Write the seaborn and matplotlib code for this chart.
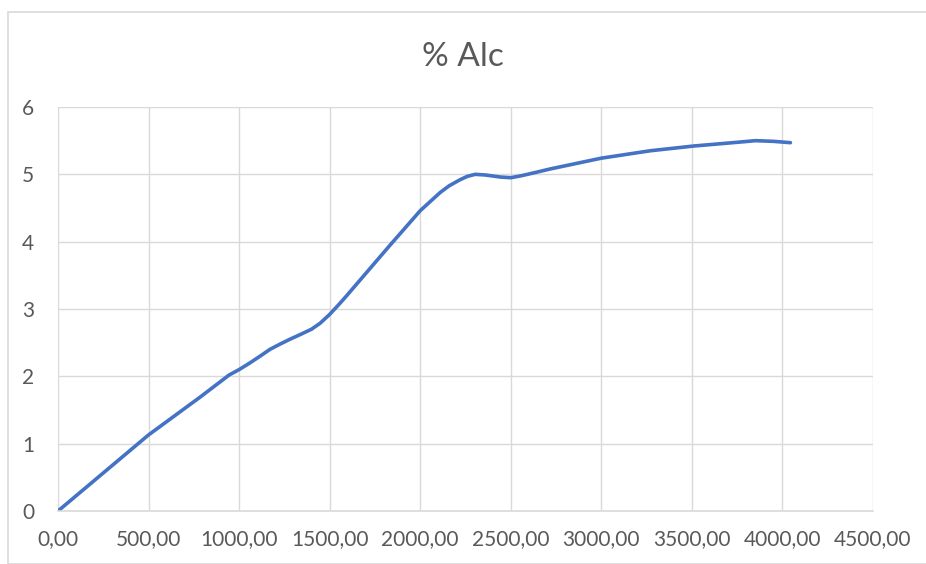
import matplotlib
matplotlib.use("Agg")
import matplotlib.pyplot as plt
from matplotlib.patches import Rectangle
from matplotlib.ticker import FuncFormatter, MultipleLocator
import pandas as pd
import seaborn as sns

# Alcohol content (%) measured along the x quantity
x_vals = [0, 500, 784, 945, 1000, 1060, 1116, 1170, 1227, 1280, 1337, 1400,
          1448, 1500, 1545, 1585, 1668, 1834, 2000, 2110, 2160, 2220, 2260,
          2304, 2360, 2442, 2500, 2560, 2640, 2718, 3000, 3270, 3508, 3768,
          3851, 3950, 4044]
alc_vals = [0.00, 1.13, 1.69, 2.02, 2.10, 2.20, 2.30, 2.40, 2.48, 2.55, 2.62,
            2.70, 2.79, 2.92, 3.05, 3.17, 3.43, 3.95, 4.46, 4.73, 4.83, 4.92,
            4.97, 5.00, 4.99, 4.96, 4.95, 4.98, 5.03, 5.08, 5.24, 5.35, 5.42,
            5.48, 5.50, 5.49, 5.47]
title = "% Alc"

df = pd.DataFrame({"x": x_vals, "alc": alc_vals})

sns.set_theme(style="white")
plt.rcParams["font.family"] = ["Lato", "DejaVu Sans"]

text_col = "#595959"
grid_col = "#d9d9d9"

fig = plt.figure(figsize=(9.26, 5.64), dpi=100)
ax = fig.add_axes([58 / 926, 1 - 511 / 564, (873 - 58) / 926, (511 - 107) / 564])

sns.lineplot(data=df, x="x", y="alc", ax=ax, sort=False, estimator=None,
             color="#4472C4", linewidth=2.6, solid_capstyle="round",
             solid_joinstyle="round")

ax.set_xlim(0, 4500)
ax.set_ylim(0, 6)
ax.xaxis.set_major_locator(MultipleLocator(500))
ax.yaxis.set_major_locator(MultipleLocator(1))
ax.xaxis.set_major_formatter(FuncFormatter(lambda v, p: f"{v:.2f}".replace(".", ",")))
ax.yaxis.set_major_formatter(FuncFormatter(lambda v, p: f"{v:.0f}"))

ax.grid(True, color=grid_col, linewidth=1.0)
ax.set_axisbelow(True)
for side in ["top", "right", "left"]:
    ax.spines[side].set_visible(False)
ax.spines["bottom"].set_color(grid_col)
ax.spines["bottom"].set_linewidth(1.2)

ax.tick_params(axis="both", length=0, labelsize=15, labelcolor=text_col)
ax.tick_params(axis="x", pad=13)
ax.tick_params(axis="y", pad=17)
ax.set_xlabel("")
ax.set_ylabel("")

fig.text(0.5, 1 - 57 / 564, title, ha="center", va="center",
         fontsize=24, color=text_col)

# Light frame around the chart area
fig.patches.append(Rectangle((8 / 926, 0), 1.0, 1 - 12 / 564,
                             transform=fig.transFigure, fill=False,
                             edgecolor=grid_col, linewidth=1.2))

fig.savefig("out.png", dpi=100)
